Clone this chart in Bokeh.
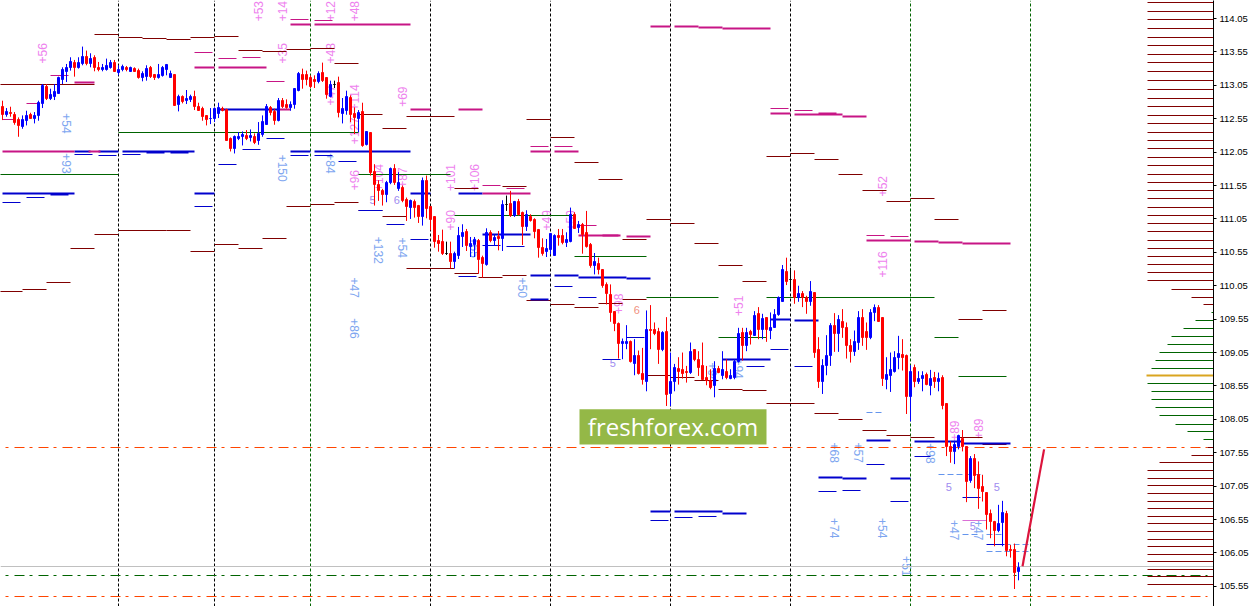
import math
from bokeh.plotting import figure
from bokeh.embed import file_html
from bokeh.resources import INLINE
from bokeh.core.properties import value
from bokeh.models import ColumnDataSource, FixedTicker, NumeralTickFormatter, Label, Range1d

opens = [112.73,112.62,112.65,112.62,112.54,112.43,112.52,112.61,112.56,112.60,112.78,113.03,112.86,112.88,112.93,113.14,113.26,113.31,113.39,113.32,
113.37,113.48,113.37,113.47,113.31,113.29,113.29,113.32,113.39,113.24,113.29,113.32,113.26,113.30,113.27,113.17,113.18,113.32,113.21,113.16,
113.20,113.29,113.17,113.21,112.76,112.88,112.82,112.84,112.89,112.73,112.71,112.60,112.55,112.55,112.63,112.71,112.69,112.26,112.10,112.25,
112.28,112.30,112.27,112.29,112.22,112.31,112.46,112.72,112.66,112.52,112.82,112.77,112.72,112.76,112.98,113.21,113.21,113.17,113.14,113.11,
113.24,113.16,112.89,113.07,113.09,112.63,112.67,112.87,112.63,112.56,112.66,112.16,112.34,111.76,111.56,111.48,111.41,111.60,111.81,111.51,
111.52,111.34,111.22,111.31,111.25,111.08,111.63,111.23,111.08,110.72,110.71,110.53,110.54,110.41,110.50,110.78,110.86,110.63,110.67,110.72,
110.48,110.37,110.85,110.72,110.78,110.76,111.27,111.28,111.10,111.31,111.15,110.93,111.08,111.04,110.89,110.62,110.56,110.59,110.51,110.80,
110.80,110.70,110.71,111.11,110.92,110.97,110.84,110.66,110.36,110.39,110.29,110.07,109.92,109.67,109.49,109.18,109.18,109.22,108.89,109.01,
108.73,108.62,109.40,109.40,109.37,109.09,109.36,108.44,108.61,108.81,108.79,108.77,108.75,109.09,108.94,108.85,108.68,108.63,108.55,108.81,
108.71,108.77,108.66,108.67,108.91,109.35,109.16,109.37,109.31,109.63,109.39,109.57,109.38,109.42,109.62,109.82,110.27,110.15,110.15,109.87,
109.94,109.87,109.81,109.95,109.10,108.62,108.86,109.00,109.46,109.33,109.52,109.43,109.15,109.06,109.20,109.57,109.36,109.27,109.65,109.73,
109.57,108.64,108.71,108.77,108.97,109.02,109.00,108.39,108.83,108.62,108.66,108.72,108.56,108.68,108.61,108.68,108.28,107.64,107.57,107.65,
107.77,107.65,107.14,107.46,107.22,107.05,106.96,106.64,106.52,106.38,106.50,106.64,106.10,106.10,105.77]
highs = [112.82,112.71,112.73,112.65,112.57,112.60,112.67,112.64,112.65,112.82,113.07,113.07,113.00,113.07,113.18,113.32,113.37,113.47,113.43,113.47,
113.63,113.57,113.53,113.50,113.40,113.37,113.45,113.43,113.43,113.35,113.36,113.34,113.33,113.32,113.30,113.26,113.35,113.34,113.22,113.37,
113.34,113.37,113.27,113.22,112.91,112.90,112.98,112.91,112.97,112.79,112.73,112.60,112.71,112.72,112.79,112.73,112.70,112.27,112.30,112.35,
112.36,112.38,112.39,112.33,112.50,112.60,112.77,112.74,112.70,112.86,112.86,112.84,112.81,113.01,113.25,113.30,113.27,113.20,113.20,113.26,
113.39,113.17,113.12,113.12,113.18,112.86,112.97,112.90,112.72,112.68,112.79,112.36,112.35,111.87,111.63,111.50,111.62,111.82,111.87,111.75,
111.55,111.37,111.34,111.34,111.26,111.67,111.70,111.24,111.08,110.81,110.89,110.71,110.71,110.56,110.93,110.97,110.90,110.78,110.78,110.75,
110.50,110.91,110.88,110.82,110.87,111.33,111.40,111.47,111.32,111.35,111.16,111.18,111.12,111.06,110.90,110.76,110.75,110.84,110.82,110.90,
110.90,110.85,111.22,111.15,111.02,110.99,111.17,110.69,110.54,110.47,110.30,110.10,110.07,109.67,109.50,109.26,109.46,109.23,109.25,109.08,
109.12,109.68,109.76,109.50,109.42,109.37,109.58,109.05,108.88,108.98,109.05,108.85,109.20,109.10,109.07,109.20,108.85,108.80,108.92,108.85,
109.07,108.95,108.80,108.95,109.42,109.42,109.42,109.39,109.67,109.73,109.63,109.58,109.65,109.70,109.89,110.36,110.47,110.32,110.28,110.05,
109.97,109.90,110.12,109.95,109.28,108.95,109.31,109.49,109.64,109.61,109.70,109.50,109.25,109.38,109.67,109.70,109.50,109.70,109.77,109.76,
109.57,108.98,109.05,109.07,109.30,109.25,109.02,108.86,108.87,108.77,108.77,108.75,108.79,108.76,108.75,108.71,108.29,107.72,107.73,107.82,
107.89,107.65,107.50,107.53,107.42,107.22,106.96,106.70,106.53,106.77,106.83,106.68,106.17,106.19,105.91]
lows = [112.53,112.58,112.58,112.46,112.28,112.40,112.45,112.55,112.48,112.52,112.71,112.83,112.83,112.83,112.92,113.07,113.10,113.27,113.18,113.30,
113.35,113.35,113.32,113.26,113.26,113.26,113.27,113.30,113.25,113.20,113.26,113.26,113.26,113.25,113.15,113.11,113.12,113.16,113.13,113.15,
113.18,113.20,113.16,112.75,112.66,112.78,112.77,112.80,112.68,112.67,112.52,112.45,112.47,112.50,112.56,112.66,112.22,112.06,112.03,112.23,
112.15,112.23,112.21,112.17,112.16,112.28,112.46,112.60,112.46,112.51,112.71,112.70,112.67,112.70,112.96,113.00,113.05,113.01,113.01,113.08,
113.10,112.85,112.87,113.01,112.57,112.48,112.61,112.50,112.32,112.35,112.13,112.15,111.70,111.25,111.32,111.25,111.30,111.57,111.56,111.47,
111.30,111.02,111.05,111.07,110.99,110.95,111.06,110.88,110.62,110.56,110.51,110.51,110.31,110.31,110.45,110.63,110.57,110.48,110.48,110.23,
110.17,110.35,110.70,110.65,110.58,110.57,111.17,111.08,111.08,111.10,110.66,110.87,111.01,110.76,110.47,110.50,110.48,110.52,110.50,110.65,
110.67,110.63,110.70,110.90,110.84,110.53,110.62,110.32,110.22,110.22,110.02,109.77,109.51,109.37,108.96,108.95,109.10,108.90,108.71,108.72,
108.57,108.47,109.10,109.31,108.88,109.07,108.25,108.25,108.47,108.57,108.66,108.60,108.73,108.92,108.70,108.64,108.56,108.50,108.38,108.74,
108.65,108.65,108.65,108.65,108.90,108.93,109.07,109.17,109.30,109.25,109.25,109.21,109.25,109.42,109.60,109.81,110.06,109.97,109.78,109.81,
109.73,109.63,109.75,108.97,108.52,108.43,108.71,108.85,109.06,109.06,109.27,108.96,108.90,109.00,109.09,109.15,109.09,109.25,109.52,109.51,
108.55,108.50,108.46,108.75,108.80,108.78,108.13,108.02,108.53,108.58,108.47,108.56,108.41,108.52,108.47,108.20,107.50,107.40,107.38,107.60,
107.57,106.81,107.10,107.02,106.71,106.82,106.40,106.27,106.15,106.36,106.15,106.00,105.98,105.51,105.64]
closes = [112.62,112.66,112.63,112.50,112.45,112.54,112.60,112.56,112.60,112.80,113.05,112.86,112.91,112.96,113.16,113.29,113.31,113.40,113.31,113.39,
113.48,113.37,113.45,113.32,113.29,113.32,113.35,113.39,113.26,113.29,113.33,113.28,113.31,113.26,113.17,113.23,113.30,113.18,113.16,113.21,
113.32,113.36,113.23,112.75,112.89,112.81,112.86,112.88,112.73,112.68,112.58,112.54,112.56,112.71,112.72,112.67,112.22,112.10,112.29,112.29,
112.31,112.25,112.30,112.20,112.33,112.51,112.73,112.65,112.52,112.83,112.74,112.72,112.76,113.00,113.23,113.14,113.14,113.03,113.11,113.23,
113.12,112.91,113.07,113.07,112.64,112.70,112.88,112.62,112.57,112.65,112.15,112.36,111.75,111.56,111.47,111.41,111.60,111.81,111.59,111.60,
111.33,111.23,111.32,111.22,111.08,111.62,111.21,111.04,110.71,110.68,110.53,110.53,110.41,110.53,110.80,110.85,110.65,110.68,110.74,110.44,
110.39,110.84,110.72,110.77,110.75,111.27,111.27,111.10,111.31,111.11,110.93,111.11,111.02,110.86,110.62,110.54,110.60,110.83,110.80,110.77,
110.70,110.74,111.12,110.91,110.97,110.81,110.64,110.35,110.41,110.29,110.05,109.93,109.65,109.48,109.18,109.22,109.21,108.91,109.00,108.73,
108.64,109.40,109.38,109.34,109.09,109.35,108.42,108.61,108.83,108.77,108.74,108.75,109.06,108.94,108.82,108.65,108.63,108.53,108.81,108.75,
108.79,108.67,108.70,108.92,109.34,109.15,109.35,109.32,109.61,109.40,109.56,109.39,109.43,109.62,109.87,110.29,110.12,110.15,109.88,109.94,
109.87,109.82,109.96,109.05,108.61,108.86,109.00,109.46,109.33,109.55,109.42,109.15,109.06,109.22,109.57,109.27,109.27,109.65,109.73,109.52,
108.66,108.72,108.79,108.98,109.04,108.97,108.39,108.77,108.62,108.66,108.71,108.57,108.66,108.62,108.66,108.26,107.65,107.57,107.67,107.81,
107.64,107.12,107.46,107.21,107.02,106.97,106.63,106.52,106.38,106.49,106.66,106.09,106.08,105.76,105.83]

price_ticks = [105.55,106.05,106.55,107.05,107.55,108.05,108.55,109.05,109.55,110.05,110.55,111.05,111.55,112.05,112.55,113.05,113.55,114.05]
last_price = 105.85

session_black = [29,53,107,137,167,197]
session_green = [77,227,257]

maroon_start = [-1,5,11,17,23,29,41,47,53,59,65,71,77,83,89,95,101,113,119,125,131,137,143,149,155,161,167,173,179,185,191,203,209,215,221,227,233,239,245,
 -1,23,29,35,41,47,53,59,65,71,77,83,89,95,101,113,125,131,137,143,149,155,161,167,173,179,185,191,197,203,209,215,221,227,233,239,245]
maroon_end = [5,11,17,23,29,41,47,53,59,65,71,77,83,89,95,101,113,119,125,131,137,143,149,155,161,167,173,179,185,191,203,209,215,221,227,233,239,245,251,
 23,29,35,41,47,53,59,65,71,77,83,89,95,101,113,119,131,137,143,149,155,161,167,173,179,185,191,197,203,209,215,221,227,233,239,245,251]
maroon_price = [109.97,110.00,110.105,110.61,110.82,110.87,110.88,110.57,110.67,110.61,110.76,111.24,111.26,111.29,111.18,111.09,110.31,110.235,110.175,110.205,109.83,109.77,109.725,109.785,109.845,108.705,108.675,108.63,108.495,108.48,108.285,108.135,108.045,107.88,107.805,107.775,107.72,107.775,107.675,
 113.07,113.805,113.76,113.745,113.73,113.76,113.775,113.565,113.55,113.58,113.595,113.37,112.62,112.41,112.59,111.51,111.54,112.545,112.275,111.90,111.645,110.745,111.045,110.985,110.685,110.355,110.115,111.99,112.035,111.945,111.72,111.48,111.315,111.36,111.045,109.545,109.68]

green_start = [-1,29,89,113,143,161,179,191,233,239]
green_end = [29,89,112,143,161,179,191,233,239,251]
green_price = [111.72,112.35,111.72,111.105,110.49,109.875,109.275,109.875,109.275,108.69]

thick_blue_start = [18,24,30,0,48,54,72,78,102,114,120,132,138,144,156,132,180,192,198,204,210,216,222,228,240,162,168,180,12,36,42]
thick_blue_end = [22,29,48,18,53,69,77,102,107,120,132,137,144,156,162,136.5,192,197,204,210,216,222,227,240,252,167,180,186,16.5,40.5,46.5]
thick_blue_price = [112.06,112.06,112.06,111.43,111.43,112.69,112.06,112.06,111.43,111.43,110.81,110.21,110.21,110.18,110.165,109.84,108.95,109.55,109.535,107.185,107.17,107.735,107.17,107.72,107.695,106.67,106.67,106.637,111.41,112.04,112.04]

thick_magenta_start = [0,18,21.5,48,54,69,72,78,102,114,120,132,138,144,156,162,168,174,180,192,198,204,210,216,228,234,240,150]
thick_magenta_end = [18,23,24.5,53,66,72,77,102,107,120,132,137,144,154,162,167,174,180,192,197,210,208.5,216,227,234,240,252,154.5]
thick_magenta_price = [112.06,113.085,112.06,113.32,113.32,112.69,113.96,113.96,112.69,112.69,111.43,112.055,112.055,110.795,110.78,113.93,113.93,113.915,113.90,112.625,112.61,112.625,112.58,110.72,110.71,110.70,110.675,110.80]

thin_magenta_start = [48,54,60,72,78,12,6,0,66,120,126,132,138,144,192,198,216,222]
thin_magenta_end = [52.5,58.5,64.5,76.5,82.5,16.5,9,3,70.5,124.5,130.5,136.5,142.5,148.5,196.5,202.5,220.5,226.5]
thin_magenta_price = [113.535,113.445,113.46,114.03,114.015,113.19,112.785,112.535,113.10,111.555,111.51,112.13,112.14,110.955,112.71,112.67,110.805,110.79]

thin_blue_start = [18,24,30,0,6,48,54,60,66,72,78,84,89,96,102,120,126,114,138,144,156,150,186,192,198,216,204,210,222,228,240,246,162,168,174]
thin_blue_end = [22.5,28.5,34.5,4.5,10.5,52.5,58.5,64.5,70.5,76.5,82.5,88.5,95,100.5,106.5,124.5,130.5,118.5,142.5,148.5,160.5,154.5,190.5,196.5,202.5,220.5,208.5,214.5,226.5,232,244.5,250.5,166.5,172.5,178.5]
thin_blue_price = [112.02,112.005,112.02,111.30,111.375,111.24,111.87,112.095,112.26,112.005,112.005,111.915,111.18,110.97,110.745,110.655,110.64,110.19,110.04,109.875,109.275,108.945,108.84,109.09,108.84,107.37,106.965,106.98,106.815,107.49,106.885,106.18,106.53,106.587,106.60]

dash_blue_start = [216,234,240,246,250.5,246]
dash_blue_end = [220.5,245,244.5,250.5,257,257]
dash_blue_price = [108.15,107.22,106.32,106.32,106.17,106.065]

orchid_start = [240]
orchid_end = [246]
orchid_price = [106.54]

forecast_bar = [255,260.4]
forecast_price = [105.85,107.6]

orange_levels = [107.624,105.393]
green_dash_levels = [105.708]
gray_levels = [105.845]

profile_maroon_price = [114.285,114.15,114.03,113.895,113.76,113.64,113.505,113.385,113.25,113.115,112.995,112.86,112.74,112.605,112.485,112.35,112.23,112.11,111.975,111.855,111.72,111.6,111.48,111.36,111.225,111.105,110.985,110.865,110.73,110.61,110.49,110.37,110.25,110.13,109.995,109.875,109.765,
 107.635,107.515,107.41,107.29,107.17,107.065,106.945,106.825,106.72,106.60,106.495,106.375,106.255,106.15,106.03,105.925,105.805,105.70,105.58,105.475,105.37]
profile_maroon_bar = [286.25]*34 + [292.25,297.25,300.25, 301.25,297.25,289.25] + [286.25]*16
profile_green_price = [109.645,109.525,109.405,109.285,109.165,109.045,108.925,108.805,108.58,108.46,108.34,108.22,108.10,107.98,107.875,107.755]
profile_green_bar = [302.25,298.25,295.25,292.25,291.25,289.25,288.25,287.25,286.25,287.25,287.25,288.25,289.25,293.25,296.25,300.25]
profile_peak_price = [108.705]
profile_peak_bar = [286]
profile_end = 302.75

pink_text = ["+56","+53","+14","+12","+48","+35","+48","+47","+114","+127","+69","+96","+104","+87","+101","+106","+90","+49","+59","+98","+51","+52","+116","+89","+89"]
pink_bar = [10.1,63.9,70.1,82.1,88.1,70.1,82.1,82.1,88.1,88.1,99.9,87.9,93.9,99.9,112.1,117.9,112.1,135.9,141.9,153.9,184.1,220.1,220.1,237.9,243.9]
pink_price = [113.53,114.16,114.16,114.16,114.16,113.53,113.53,112.90,112.87,112.37,112.88,111.63,111.67,111.67,111.67,111.67,111.03,111.03,111.03,109.78,109.75,111.54,110.37,107.88,107.91]
blue_text = ["+54","+93","+150","+84","+132","+54","+47","+86","+65","+50","+94","+94","+68","+57","+98","+74","+54","+47","+47","+51"]
blue_bar = [15.9,15.9,70.1,82.1,93.9,99.9,87.9,87.9,117.9,130.1,177.6,183.9,207.9,213.9,231.9,207.9,219.9,237.9,243.9,225.9]
blue_price = [112.48,111.88,111.81,111.88,110.58,110.62,110.02,109.41,110.62,110.02,108.75,108.81,107.55,107.55,107.54,106.42,106.42,106.39,106.39,105.85]
digit_text = ["5","6","5","5","5","5","6"]
digit_bar = [92.5,98.6,152.6,236.6,248.6,242.6,158.6]
digit_price = [111.33,111.33,108.89,107.03,107.03,106.46,109.68]
digit_color = ["#a08cf0","#a08cf0","#a08cf0","#a08cf0","#a08cf0","#a08cf0","#f09080"]

brand_text = "freshforex.com"
brand_left, brand_right = 144.25, 191
brand_bottom, brand_top = 107.675, 108.2

MAROON = "#800000"; GREEN = "#006400"; BLUE = "#0000cd"; MAG = "#c71585"

W, H = 1252, 606
x0 = -0.5; x1 = 302.75
y1 = 114.32; y0 = y1 - H * 0.01497

def snap(prices):
    """Align a price to a whole screen row so 1px lines stay crisp."""
    k = (y1 - y0) / H
    return [y1 - round((y1 - v) / k) * k for v in prices]

p = figure(width=W, height=H, output_backend="svg", toolbar_location=None,
           x_range=Range1d(x0, x1), y_range=Range1d(y0, y1),
           x_axis_location=None, y_axis_location="right",
           min_border_left=0, min_border_top=0, min_border_bottom=0, min_border_right=39,
           outline_line_color=None, background_fill_color="white", tools="")
p.grid.visible = False
ax = p.yaxis[0]
ax.ticker = FixedTicker(ticks=price_ticks)
ax.formatter = NumeralTickFormatter(format="0.00")
ax.axis_line_color = "black"
ax.axis_line_width = 1
ax.major_tick_line_color = "black"
ax.major_tick_out = 3
ax.major_tick_in = 0
ax.minor_tick_line_color = None
ax.major_label_standoff = 3
ax.major_label_text_font = "Liberation Sans"
ax.major_label_text_font_size = "9.5px"
ax.major_label_text_color = "black"

def lab(txt, xs, ys, color, angle, size="12px"):
    p.text(x=xs, y=ys, text=txt, text_color=color, angle=angle, angle_units="deg",
           text_align="center", text_baseline="middle",
           text_font=value("Liberation Sans"), text_font_size=size)

lab(pink_text, pink_bar, pink_price, "#ee82ee", 90)
lab(blue_text, blue_bar, blue_price, "#7ea6f0", -90)
lab(digit_text, digit_bar, digit_price, digit_color, 0, "11px")

def seg(st, en, pr, color, w=1, dash="solid"):
    pr = snap(pr)
    p.segment(x0=st, y0=pr, x1=en, y1=pr, line_color=color, line_width=w, line_dash=dash)

p.segment(x0=session_black, y0=[y0]*len(session_black), x1=session_black, y1=[y1]*len(session_black),
          line_color="black", line_width=1, line_dash="3 2")
p.segment(x0=session_green, y0=[y0]*len(session_green), x1=session_green, y1=[y1]*len(session_green),
          line_color=GREEN, line_width=1, line_dash="3 2")

seg([x0], [profile_end], gray_levels, "#c0c0c0")
seg([0.75]*len(orange_levels), [301.25]*len(orange_levels), orange_levels, "#ff4500", 1, "3 6 10 5")
seg([0.75], [301.25], green_dash_levels, GREEN, 1, "3 6 10 5")

seg(maroon_start, maroon_end, maroon_price, MAROON)
seg(green_start, green_end, green_price, GREEN)
seg(thin_magenta_start, thin_magenta_end, thin_magenta_price, MAG)
seg(thin_blue_start, thin_blue_end, thin_blue_price, BLUE)
seg(dash_blue_start, dash_blue_end, dash_blue_price, "#6495ed", 1, "6 3")
seg(orchid_start, orchid_end, orchid_price, "#da70d6")
seg(thick_blue_start, thick_blue_end, thick_blue_price, BLUE, 2)
seg(thick_magenta_start, thick_magenta_end, thick_magenta_price, MAG, 2)

seg(profile_maroon_bar, [profile_end]*len(profile_maroon_bar), profile_maroon_price, MAROON)
seg(profile_green_bar, [profile_end]*len(profile_green_bar), profile_green_price, GREEN)
seg(profile_peak_bar, [profile_end], profile_peak_price, "#daa520", 2)

bars = list(range(len(closes)))
colors = ["black" if o == c else ("#ff0000" if c < o else "#0000ff") for o, c in zip(opens, closes)]
src = ColumnDataSource(dict(x=bars, h=highs, l=lows, col=colors,
                            top=snap([max(a, b) for a, b in zip(opens, closes)]),
                            bot=snap([min(a, b) for a, b in zip(opens, closes)])))
p.segment(x0="x", y0="l", x1="x", y1="h", line_color="col", line_width=1, source=src)
p.vbar(x="x", width=0.5, top="top", bottom="bot", fill_color="col", line_color="col", line_width=1, source=src)

p.line(x=forecast_bar, y=forecast_price, line_color="#dc143c", line_width=2.2)

p.quad(left=[brand_left], right=[brand_right], bottom=[brand_bottom], top=[brand_top],
       fill_color="#94b847", line_color=None)
p.text(x=[(brand_left + brand_right) / 2], y=[(brand_bottom + brand_top) / 2], text=[brand_text],
       text_color="white", text_align="center", text_baseline="middle",
       text_font=value("Open Sans"), text_font_size="24px")

p.add_layout(Label(x=1215, y=last_price, x_units="screen", y_units="data", text="105.85",
                   text_color="white", text_font="Liberation Sans", text_font_size="9.5px",
                   text_baseline="middle", background_fill_color="black", padding=(1, 3)))

open("out.html", "w").write(file_html(p, INLINE))
